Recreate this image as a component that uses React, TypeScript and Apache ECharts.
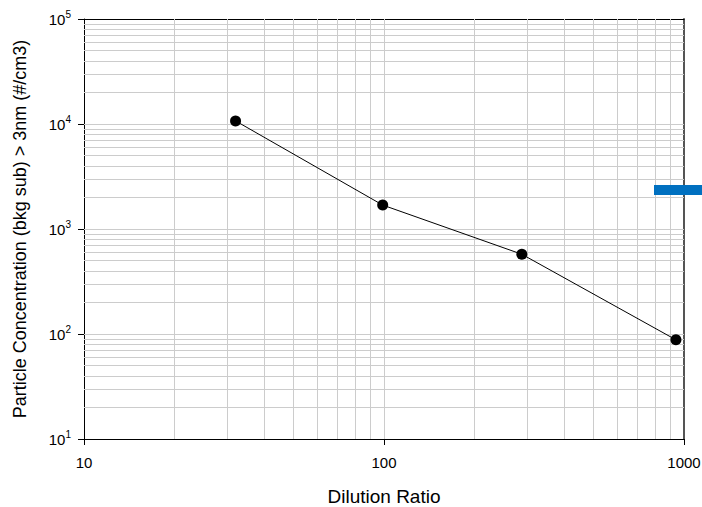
import React, { useEffect, useRef } from "react";
import * as echarts from "echarts";

const dilutionRatio = [32, 99, 288, 940];
const concentration = [10700, 1690, 575, 88];
const xMinorGrid = [20, 30, 40, 50, 60, 70, 80, 90, 100, 200, 300, 400, 500, 600, 700, 800, 900];
const yMinorGrid = [
  20, 30, 40, 50, 60, 70, 80, 90, 100,
  200, 300, 400, 500, 600, 700, 800, 900, 1000,
  2000, 3000, 4000, 5000, 6000, 7000, 8000, 9000, 10000,
  20000, 30000, 40000, 50000, 60000, 70000, 80000, 90000,
];
const xTitle = "Dilution Ratio";
const yTitle = "Particle Concentration (bkg sub) > 3nm (#/cm3)";

export default function App() {
  const ref = useRef<HTMLDivElement>(null);
  useEffect(() => {
    if (!ref.current) return;
    const chart = echarts.init(ref.current, null, { renderer: "svg" });
    const font = "'Liberation Sans', Arial, sans-serif";
    const gridLines = [
      ...xMinorGrid.map((v) => ({ xAxis: v })),
      ...yMinorGrid.map((v) => ({ yAxis: v })),
    ];
    chart.setOption({
      animation: false,
      backgroundColor: "#ffffff",
      textStyle: { fontFamily: font },
      grid: {
        left: 84,
        top: 19,
        width: 600,
        height: 420,
        containLabel: false,
        outerBoundsMode: "none",
      },
      xAxis: [
        {
          type: "log",
          logBase: 10,
          min: 10,
          max: 1000,
          name: xTitle,
          nameLocation: "middle",
          nameGap: 48,
          nameTextStyle: { fontSize: 19, color: "#000", fontFamily: font },
          axisLine: { lineStyle: { color: "#000", width: 1 } },
          axisTick: { show: true, length: 6, inside: false, lineStyle: { color: "#000" } },
          axisLabel: {
            fontSize: 15,
            color: "#000",
            margin: 16,
            fontFamily: font,
            formatter: (v: number) => String(Math.round(v)),
          },
          splitLine: { show: false },
        },
        {
          type: "log",
          logBase: 10,
          min: 10,
          max: 1000,
          position: "top",
          axisLine: { lineStyle: { color: "#000", width: 1 } },
          axisTick: { show: false },
          axisLabel: { show: false },
          splitLine: { show: false },
        },
      ],
      yAxis: [
        {
          type: "log",
          logBase: 10,
          min: 10,
          max: 100000,
          name: yTitle,
          nameLocation: "middle",
          nameGap: 55,
          nameTextStyle: { fontSize: 18, color: "#000", fontFamily: font, padding: [0, 0, 0, 0] },
          axisLine: { lineStyle: { color: "#000", width: 1 } },
          axisTick: { show: true, length: 6, inside: false, lineStyle: { color: "#000" } },
          axisLabel: {
            margin: 13,
            color: "#000",
            fontSize: 15,
            fontFamily: font,
            formatter: (v: number) => "10{sup|" + Math.round(Math.log10(v)) + "}",
            rich: {
              sup: { fontSize: 10, padding: [0, 0, 9, 0], color: "#000", fontFamily: font },
            },
          },
          splitLine: { show: false },
        },
        {
          type: "log",
          logBase: 10,
          min: 10,
          max: 100000,
          position: "right",
          axisLine: { lineStyle: { color: "#555", width: 2 } },
          axisTick: { show: false },
          axisLabel: { show: false },
          splitLine: { show: false },
        },
      ],
      series: [
        {
          type: "line",
          z: 1,
          data: [],
          markLine: {
            silent: true,
            z: 1,
            symbol: "none",
            label: { show: false },
            lineStyle: { color: "#cccccc", width: 1, type: "solid" },
            data: gridLines,
          },
        },
        {
          type: "line",
          z: 3,
          data: dilutionRatio.map((x, i) => [x, concentration[i]]),
          symbol: "circle",
          symbolSize: 11,
          itemStyle: { color: "#000" },
          lineStyle: { color: "#000", width: 1 },
        },
      ],
      graphic: [
        {
          type: "rect",
          shape: { x: 654, y: 185, width: 48, height: 10 },
          style: { fill: "#0070C0" },
          z: 10,
        },
      ],
    });
    return () => chart.dispose();
  }, []);
  return (
    <div
      ref={ref}
      style={{ position: "fixed", left: 0, top: 0, width: 702, height: 507 }}
    />
  );
}
